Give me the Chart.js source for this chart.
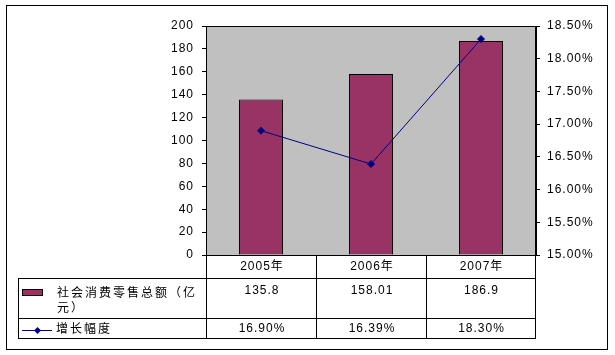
<!DOCTYPE html>
<html><head><meta charset="utf-8">
<script src="https://cdn.jsdelivr.net/npm/chart.js@4/dist/chart.umd.min.js"></script>
<style>html,body{margin:0;padding:0;background:#fff}#wrap{width:615px;height:355px;position:relative}</style>
</head><body><div id="wrap"><canvas id="c" width="615" height="355"></canvas></div>
<script>
const categories = ['2005年', '2006年', '2007年'];
const salesLabel = '社会消费零售总额（亿元）';
const salesValues = [135.8, 158.01, 186.9];
const salesTableText = ['135.8', '158.01', '186.9'];
const growthLabel = '增长幅度';
const growthValues = [0.1690, 0.1639, 0.1830];
const growthTableText = ['16.90%', '16.39%', '18.30%'];
const leftAxisRange = [0, 200, 20];
const rightAxisRange = [0.15, 0.185, 0.005];

const LATIN = '12px "Liberation Sans", Arial, "Noto Sans CJK SC", sans-serif';
const CJK = '12px "Noto Sans CJK SC", "Liberation Sans", sans-serif';
const BAR_COLOR = '#993366';
const LINE_COLOR = '#000080';

const framePlugin = {
  id: 'frame',
  beforeDraw(chart) {
    const ctx = chart.ctx, ca = chart.chartArea;
    ctx.save();
    ctx.fillStyle = '#fff';
    ctx.fillRect(0, 0, chart.width, chart.height);
    ctx.strokeStyle = '#000';
    ctx.lineWidth = 1;
    ctx.strokeRect(6.5, 5.5, 601, 344);
    ctx.fillStyle = '#C0C0C0';
    ctx.fillRect(ca.left, ca.top, ca.right - ca.left, ca.bottom - ca.top);
    ctx.restore();
    ctx.letterSpacing = '1px';
  },
  afterDatasetsDraw(chart) {
    const ctx = chart.ctx, ca = chart.chartArea;
    ctx.save();
    ctx.strokeStyle = '#000';
    ctx.lineWidth = 1;
    ctx.strokeRect(ca.left + 0.5, ca.top + 0.5, ca.right - ca.left - 1, ca.bottom - ca.top);
    ctx.restore();
  },
  afterDraw(chart) {
    const ctx = chart.ctx, ca = chart.chartArea, xs = chart.scales.x;
    const n = categories.length;
    const step = xs.getPixelForValue(1) - xs.getPixelForValue(0);
    const edges = [];
    for (let i = 0; i <= n; i++) edges.push(Math.round(xs.getPixelForValue(0) - step / 2 + i * step));
    edges[n] -= 1;
    const yHead = Math.round(ca.bottom), yR1 = 278, yR2 = 318, yEnd = 338, xLeg = 18;
    ctx.save();
    ctx.strokeStyle = '#000';
    ctx.lineWidth = 1;
    ctx.beginPath();
    edges.forEach(x => { ctx.moveTo(x + 0.5, yHead); ctx.lineTo(x + 0.5, yEnd + 1); });
    ctx.moveTo(xLeg + 0.5, yR1); ctx.lineTo(xLeg + 0.5, yEnd + 1);
    [yR1, yR2, yEnd].forEach(y => { ctx.moveTo(xLeg, y + 0.5); ctx.lineTo(edges[n] + 1, y + 0.5); });
    ctx.stroke();

    ctx.fillStyle = '#000';
    ctx.textBaseline = 'middle';
    ctx.textAlign = 'center';
    ctx.letterSpacing = '1px';
    ctx.font = LATIN;
    for (let i = 0; i < n; i++) {
      const cx = (edges[i] + edges[i + 1]) / 2 + 1;
      ctx.fillText(categories[i], cx, 267);
      ctx.fillText(salesTableText[i], cx, 291);
      ctx.fillText(growthTableText[i], cx, 329);
    }

    // legend keys
    ctx.fillStyle = BAR_COLOR;
    ctx.fillRect(22, 289, 21, 7);
    ctx.strokeRect(22.5, 289.5, 20, 6);
    ctx.strokeStyle = LINE_COLOR;
    ctx.beginPath();
    ctx.moveTo(22, 330.5); ctx.lineTo(52, 330.5);
    ctx.stroke();
    ctx.fillStyle = LINE_COLOR;
    ctx.beginPath();
    ctx.moveTo(37.5, 327); ctx.lineTo(41, 330.5); ctx.lineTo(37.5, 334); ctx.lineTo(34, 330.5);
    ctx.closePath(); ctx.fill();

    // legend texts (wrapped)
    ctx.fillStyle = '#000';
    ctx.textAlign = 'left';
    ctx.font = CJK;
    ctx.letterSpacing = '2px';
    const maxW = edges[0] - 57 - 2;
    const lines = [];
    let cur = '';
    for (const ch of salesLabel) {
      if (ctx.measureText(cur + ch).width > maxW && cur) { lines.push(cur); cur = ch; }
      else cur += ch;
    }
    if (cur) lines.push(cur);
    lines.forEach((l, k) => ctx.fillText(l, 57, 292 + k * 15.5));
    ctx.fillText(growthLabel, 56, 328);
    ctx.restore();
  }
};

new Chart(document.getElementById('c'), {
  data: {
    labels: categories,
    datasets: [
      {
        type: 'line',
        label: growthLabel,
        data: growthValues,
        yAxisID: 'y1',
        order: 0,
        borderColor: LINE_COLOR,
        backgroundColor: LINE_COLOR,
        borderWidth: 1,
        pointStyle: 'rectRot',
        pointRadius: 3.5,
        pointBackgroundColor: LINE_COLOR,
        pointBorderColor: LINE_COLOR,
        pointBorderWidth: 1,
        tension: 0,
        fill: false
      },
      {
        type: 'bar',
        label: salesLabel,
        data: salesValues,
        yAxisID: 'y',
        order: 1,
        backgroundColor: BAR_COLOR,
        borderColor: '#000',
        borderWidth: 1,
        barPercentage: 0.4,
        categoryPercentage: 1
      }
    ]
  },
  options: {
    responsive: false,
    animation: false,
    devicePixelRatio: 1,
    layout: { padding: { top: 26, bottom: 100, left: 0, right: 0 } },
    plugins: { legend: { display: false }, tooltip: { enabled: false } },
    scales: {
      x: { display: false, offset: true, grid: { display: false } },
      y: {
        position: 'left',
        min: leftAxisRange[0], max: leftAxisRange[1],
        ticks: { stepSize: leftAxisRange[2], color: '#000', font: { family: '"Liberation Sans", Arial', size: 12 }, padding: 8 },
        grid: { drawOnChartArea: false, drawTicks: true, tickLength: 4, color: '#000' },
        border: { display: true, color: '#000' },
        afterFit(s) { s.width = 206; }
      },
      y1: {
        position: 'right',
        min: rightAxisRange[0], max: rightAxisRange[1],
        ticks: {
          stepSize: rightAxisRange[2], color: '#000',
          font: { family: '"Liberation Sans", Arial', size: 12 }, padding: 7,
          callback: v => (v * 100).toFixed(2) + '%'
        },
        grid: { drawOnChartArea: false, drawTicks: true, tickLength: 4, color: '#000' },
        border: { display: true, color: '#000' },
        afterFit(s) { s.width = 79; }
      }
    }
  },
  plugins: [framePlugin]
});
</script>
</body></html>
